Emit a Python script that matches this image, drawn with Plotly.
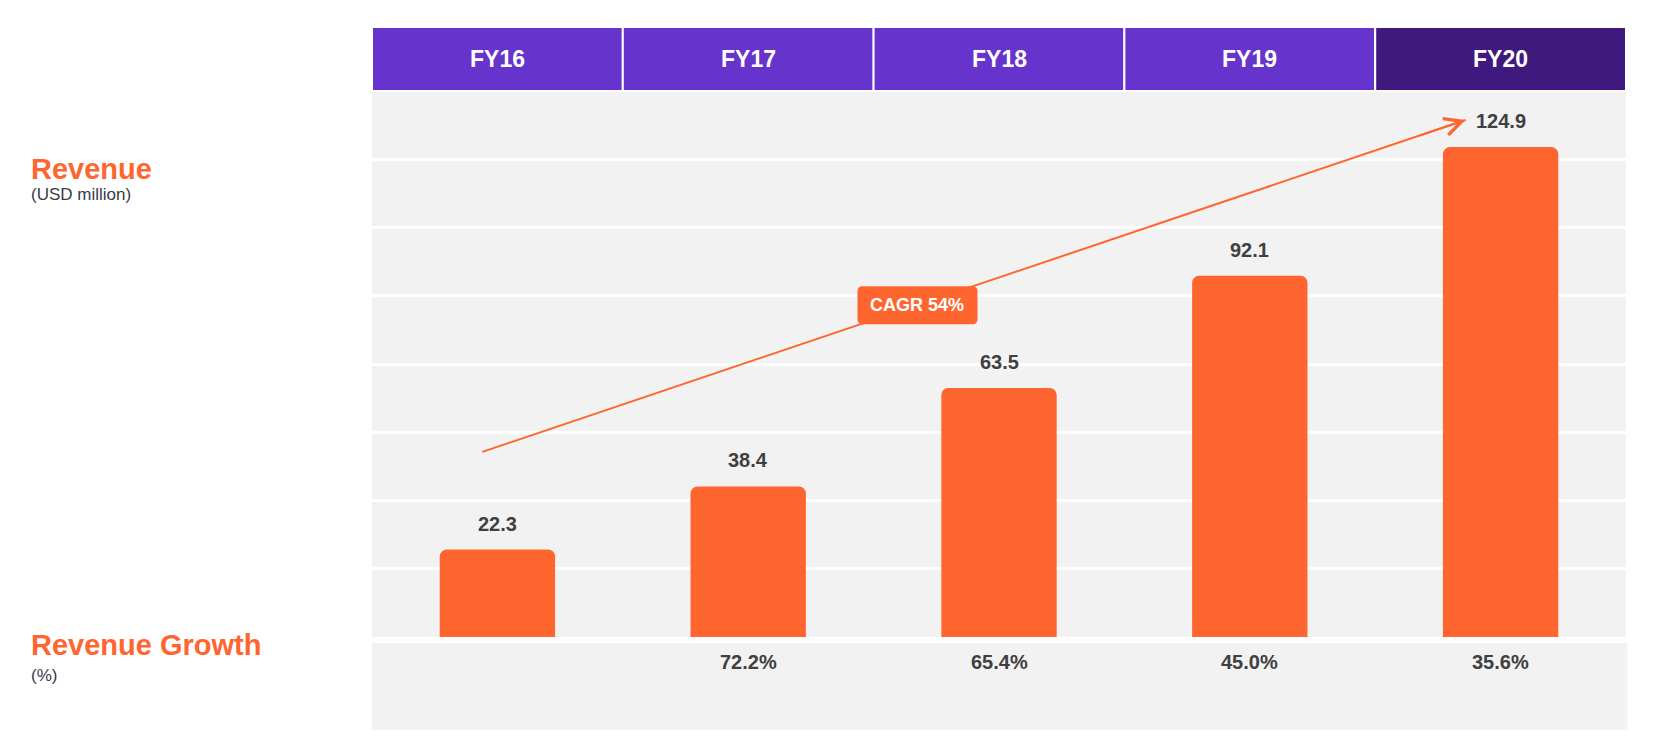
import plotly.graph_objects as go

# ---- data ----
years = ["FY16", "FY17", "FY18", "FY19", "FY20"]
revenue = [22.3, 38.4, 63.5, 92.1, 124.9]
growth = [None, 72.2, 65.4, 45.0, 35.6]
cagr_label = "CAGR 54%"

# ---- style ----
ORANGE = "#FF652F"
PURPLE = "#6633CC"
PURPLE_DARK = "#40197F"
GRAY_BG = "#F2F2F2"
TEXT_DARK = "#404040"
FONT = "Liberation Sans, Arial, sans-serif"

# page has an 8px body margin; figure coordinates = page coordinates - 8
OFF = 8
W, H = 1668 - 2 * OFF, 747 - 2 * OFF
ML = 372 - OFF
MT = 91 - OFF
plot_right = 1626 - OFF
plot_bottom = 637 - OFF
MR = W - plot_right
MB = H - plot_bottom
plot_h = H - MT - MB
Y_MAX = 139.2
n = len(years)
xs = list(range(n))

# arrow endpoints (data units)
arrow_start = (-0.06, 47.2)
arrow_end = (3.86, 131.8)
label_pos = (1.675, 84.6)


def py(page_y):
    """page pixel y -> paper y"""
    return (plot_bottom - (page_y - OFF)) / plot_h


fig = go.Figure()
fig.add_trace(go.Bar(
    x=xs, y=revenue, width=0.46,
    marker=dict(color=ORANGE, line=dict(width=0), cornerradius=7),
    hoverinfo="skip", showlegend=False,
))
# CAGR trend line
fig.add_trace(go.Scatter(
    x=[arrow_start[0], arrow_end[0]], y=[arrow_start[1], arrow_end[1]],
    mode="lines", line=dict(color=ORANGE, width=2),
    hoverinfo="skip", showlegend=False,
))

shapes = []
annotations = []

# header cells
hdr_top = py(27)
for i, yr in enumerate(years):
    shapes.append(dict(
        type="rect", xref="x", yref="paper",
        x0=i - 0.5, x1=i + 0.5, y0=1.0, y1=hdr_top,
        fillcolor=PURPLE_DARK if i == n - 1 else PURPLE,
        line=dict(color="white", width=2), layer="above",
    ))
    annotations.append(dict(
        x=i, y=(1 + hdr_top) / 2, xref="x", yref="paper",
        text=f"<b>{yr}</b>", showarrow=False,
        font=dict(family=FONT, size=23, color="white"),
        xanchor="center", yanchor="middle",
    ))

# growth row background
shapes.append(dict(
    type="rect", xref="paper", yref="paper",
    x0=0, x1=1.001, y0=py(730), y1=py(643),
    fillcolor=GRAY_BG, line=dict(width=0), layer="below",
))

# CAGR rounded label box
r = 5
hw, hh = 60, 19
path = (f"M {-hw + r},{-hh} L {hw - r},{-hh} Q {hw},{-hh} {hw},{-hh + r} "
        f"L {hw},{hh - r} Q {hw},{hh} {hw - r},{hh} L {-hw + r},{hh} "
        f"Q {-hw},{hh} {-hw},{hh - r} L {-hw},{-hh + r} Q {-hw},{-hh} {-hw + r},{-hh} Z")
shapes.append(dict(
    type="path", xref="x", yref="y", xsizemode="pixel", ysizemode="pixel",
    xanchor=label_pos[0], yanchor=label_pos[1], path=path,
    fillcolor=ORANGE, line=dict(width=0), layer="above",
))
annotations.append(dict(
    x=label_pos[0], y=label_pos[1], xref="x", yref="y",
    text=f"<b>{cagr_label}</b>", showarrow=False,
    font=dict(family=FONT, size=18, color="white"),
    xanchor="center", yanchor="middle",
))

# arrowhead at end of trend line
dx = arrow_end[0] - arrow_start[0]
dy = arrow_end[1] - arrow_start[1]
annotations.append(dict(
    x=arrow_end[0], y=arrow_end[1], xref="x", yref="y",
    ax=arrow_end[0] - dx * 0.05, ay=arrow_end[1] - dy * 0.05,
    axref="x", ayref="y", text="", showarrow=True,
    arrowhead=5, arrowsize=1.7, arrowwidth=2, arrowcolor=ORANGE,
))

# value labels
for i, v in enumerate(revenue):
    annotations.append(dict(
        x=i, y=v, xref="x", yref="y", text=f"<b>{v:.1f}</b>",
        showarrow=False, yanchor="bottom", yshift=13,
        font=dict(family=FONT, size=20, color=TEXT_DARK),
    ))

# growth labels
for i, g in enumerate(growth):
    if g is None:
        continue
    annotations.append(dict(
        x=i, y=py(662), xref="x", yref="paper", text=f"<b>{g:.1f}%</b>",
        showarrow=False, yanchor="middle",
        font=dict(family=FONT, size=20, color=TEXT_DARK),
    ))

# left row labels
lx = (29 - OFF - ML) / (W - ML - MR)
annotations += [
    dict(x=lx, y=py(169), xref="paper", yref="paper", text="<b>Revenue</b>",
         showarrow=False, xanchor="left", yanchor="middle",
         font=dict(family=FONT, size=29, color=ORANGE)),
    dict(x=lx, y=py(194), xref="paper", yref="paper", text="(USD million)",
         showarrow=False, xanchor="left", yanchor="middle",
         font=dict(family=FONT, size=17, color="#3A3A48")),
    dict(x=lx, y=py(645), xref="paper", yref="paper", text="<b>Revenue Growth</b>",
         showarrow=False, xanchor="left", yanchor="middle",
         font=dict(family=FONT, size=29, color=ORANGE)),
    dict(x=lx, y=py(675), xref="paper", yref="paper", text="(%)",
         showarrow=False, xanchor="left", yanchor="middle",
         font=dict(family=FONT, size=17, color="#3A3A48")),
]

fig.update_layout(
    width=W, height=H,
    margin=dict(l=ML, r=MR, t=MT, b=MB, pad=0),
    paper_bgcolor="white", plot_bgcolor=GRAY_BG,
    shapes=shapes, annotations=annotations,
    xaxis=dict(range=[-0.5, n - 0.5], showticklabels=False, showgrid=False,
               zeroline=False, showline=False, ticks="", fixedrange=True),
    yaxis=dict(range=[0, Y_MAX], dtick=Y_MAX / 8, tick0=0, showticklabels=False,
               showgrid=True, gridcolor="white", gridwidth=3,
               zeroline=False, showline=False, ticks="", fixedrange=True),
    bargap=0.54, font=dict(family=FONT),
)

fig.write_html("out.html", config={"displayModeBar": False})
